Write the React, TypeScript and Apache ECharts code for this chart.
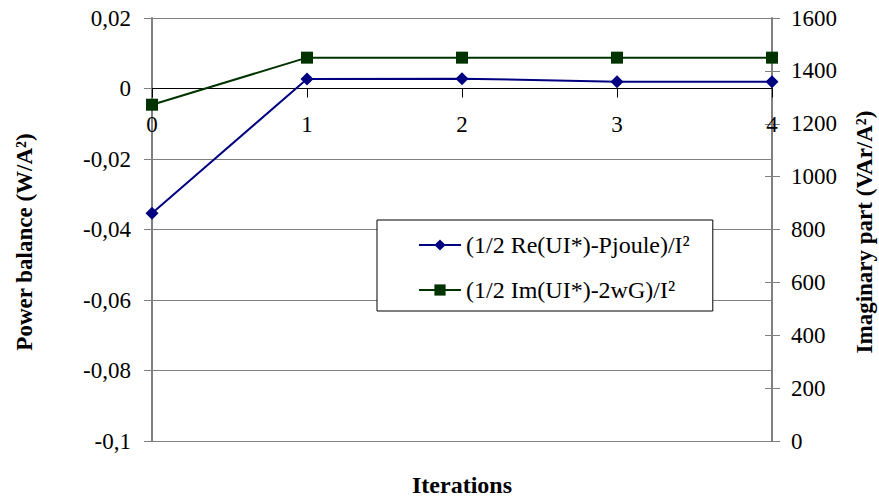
import React, { useEffect, useRef } from "react";
import * as echarts from "echarts";

// Iteration index on the horizontal axis
const iterations = ["0", "1", "2", "3", "4"];
// Active power balance, W/A² (left axis)
const realBalance = [-0.0354, 0.0027, 0.0028, 0.0019, 0.0019];
// Imaginary part, VAr/A² (right axis)
const imagBalance = [1272, 1450, 1450, 1450, 1450];

const realName = "(1/2 Re(UI*)-Pjoule)/I²";
const imagName = "(1/2 Im(UI*)-2wG)/I²";

const leftTicks = { min: -0.1, max: 0.02, interval: 0.02 };
const rightTicks = { min: 0, max: 1600, interval: 200 };

const FONT = "Liberation Serif";
const AXIS_GRAY = "#808080";

const WIDTH = 879;
const HEIGHT = 497;
const GRID = { left: 152, right: 107, top: 18, bottom: 56 };

function formatComma(v: number): string {
  if (Math.abs(v) < 1e-9) return "0";
  return String(parseFloat(v.toFixed(2))).replace(".", ",");
}

export default function App() {
  const ref = useRef<HTMLDivElement>(null);

  useEffect(() => {
    if (!ref.current) return;
    const chart = echarts.init(ref.current, null, { renderer: "svg" });

    // the category axis sits on the zero line of the left value axis
    const plotH = HEIGHT - GRID.top - GRID.bottom;
    const zeroOffset = -plotH * (0 - leftTicks.min) / (leftTicks.max - leftTicks.min);

    const labelStyle = { color: "#000", fontFamily: FONT, fontSize: 23 };
    chart.setOption({
      animation: false,
      backgroundColor: "#fff",
      textStyle: { fontFamily: FONT, color: "#000" },
      grid: { ...GRID, containLabel: false },
      legend: {
        orient: "vertical",
        left: 377,
        top: 220,
        data: [realName, imagName],
        backgroundColor: "#fff",
        borderColor: "#000",
        borderWidth: 1,
        borderRadius: 0,
        padding: [13, 23, 9, 41],
        itemWidth: 42,
        itemHeight: 14,
        itemGap: 21,
        textStyle: { color: "#000", fontFamily: FONT, fontSize: 24, lineHeight: 22 },
        z: 10,
      },
      xAxis: {
        type: "category",
        data: iterations,
        boundaryGap: false,
        position: "bottom",
        offset: zeroOffset,
        axisLine: {
          onZero: false,
          lineStyle: { color: "#000", width: 1 },
        },
        axisTick: { show: true, length: 9, lineStyle: { color: "#000" } },
        axisLabel: { ...labelStyle, margin: 24 },
        splitLine: { show: false },
      },
      yAxis: [
        {
          type: "value",
          position: "left",
          min: leftTicks.min,
          max: leftTicks.max,
          interval: leftTicks.interval,
          axisLine: { show: true, onZero: false, lineStyle: { color: AXIS_GRAY, width: 2 } },
          axisTick: { show: true, length: 8, lineStyle: { color: AXIS_GRAY } },
          axisLabel: { ...labelStyle, margin: 21, formatter: formatComma },
          splitLine: { show: true, lineStyle: { color: AXIS_GRAY, width: 1.2 } },
        },
        {
          type: "value",
          position: "right",
          min: rightTicks.min,
          max: rightTicks.max,
          interval: rightTicks.interval,
          axisLine: { show: true, onZero: false, lineStyle: { color: AXIS_GRAY, width: 2 } },
          axisTick: { show: true, length: 8, lineStyle: { color: AXIS_GRAY } },
          axisLabel: { ...labelStyle, margin: 19, formatter: (v: number) => String(v) },
          splitLine: { show: false },
        },
        {
          // inner half of the right-hand cross ticks
          type: "value",
          position: "right",
          min: rightTicks.min,
          max: rightTicks.max,
          interval: rightTicks.interval,
          axisLine: { show: false, onZero: false },
          axisTick: { show: true, inside: true, length: 7, lineStyle: { color: AXIS_GRAY } },
          axisLabel: { show: false },
          splitLine: { show: false },
        },
      ],
      graphic: [
        {
          type: "text",
          x: 24,
          y: 242,
          rotation: Math.PI / 2,
          style: {
            text: "Power balance (W/A²)",
            font: `bold 23px "${FONT}"`,
            fill: "#000",
            textAlign: "center",
            textVerticalAlign: "middle",
          },
        },
        {
          type: "text",
          x: 864,
          y: 232,
          rotation: Math.PI / 2,
          style: {
            text: "Imaginary part (VAr/A²)",
            font: `bold 23px "${FONT}"`,
            fill: "#000",
            textAlign: "center",
            textVerticalAlign: "middle",
          },
        },
        {
          type: "text",
          x: 462,
          y: 485,
          style: {
            text: "Iterations",
            font: `bold 24px "${FONT}"`,
            fill: "#000",
            textAlign: "center",
            textVerticalAlign: "middle",
          },
        },
      ],
      series: [
        {
          name: realName,
          type: "line",
          yAxisIndex: 0,
          data: realBalance,
          symbol: "diamond",
          symbolSize: 13,
          lineStyle: { color: "#000080", width: 2 },
          itemStyle: { color: "#000080" },
          z: 3,
        },
        {
          name: imagName,
          type: "line",
          yAxisIndex: 1,
          data: imagBalance,
          symbol: "rect",
          symbolSize: 12,
          lineStyle: { color: "#003300", width: 2 },
          itemStyle: { color: "#003300" },
          z: 3,
        },
      ],
    });
    return () => chart.dispose();
  }, []);

  return <div ref={ref} style={{ width: WIDTH, height: HEIGHT, position: "absolute", left: 0, top: 0 }} />;
}
